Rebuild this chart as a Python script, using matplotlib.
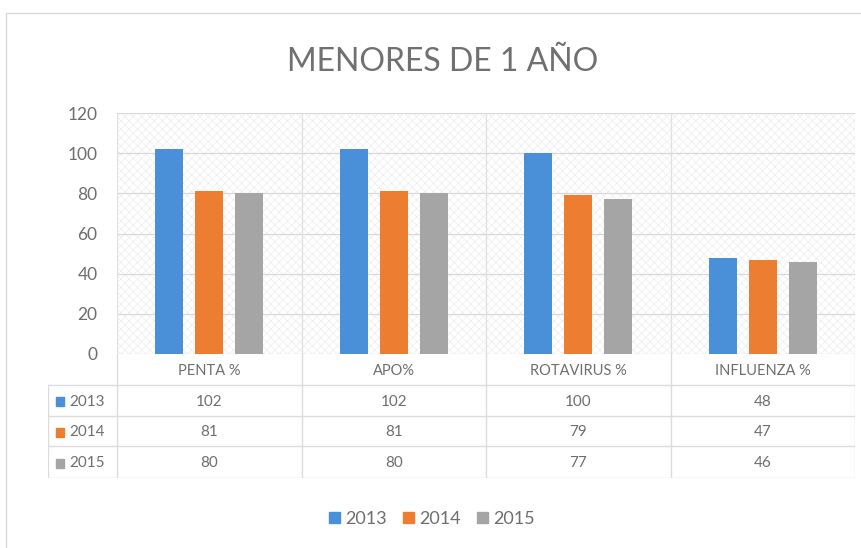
import matplotlib
matplotlib.use("Agg")
import matplotlib.pyplot as plt
from matplotlib.patches import Rectangle

title = "MENORES DE 1 AÑO"
categories = ["PENTA %", "APO%", "ROTAVIRUS %", "INFLUENZA %"]
series_names = ["2013", "2014", "2015"]
values_2013 = [102, 102, 100, 48]
values_2014 = [81, 81, 79, 47]
values_2015 = [80, 80, 77, 46]
yticks = [0, 20, 40, 60, 80, 100, 120]
colors = ["#4a90d9", "#ed7d31", "#a5a5a5"]

series = [values_2013, values_2014, values_2015]

W, H = 861, 548
fig = plt.figure(figsize=(W / 100, H / 100), dpi=100)
plt.rcParams['font.family'] = ['Lato', 'DejaVu Sans']
plt.rcParams['hatch.linewidth'] = 0.35
txt = "#6e6e6e"

def fx(px):
    return px / W

def fy(py):
    return 1 - py / H

# outer chart border
fig.add_artist(Rectangle((fx(6), fy(560)), fx(880) - fx(6), fy(13) - fy(560),
                         transform=fig.transFigure, fill=False, edgecolor="#d9d9d9", lw=1))

# main axes
x0, x1, ytop, ybot = 117, 855, 113, 354
ax = fig.add_axes([fx(x0), fy(ybot), fx(x1) - fx(x0), fy(ytop) - fy(ybot)])
ax.set_xlim(-0.5, len(categories) - 0.5)
ax.set_ylim(0, 120)
ax.add_patch(Rectangle((0, 0), 1, 1, transform=ax.transAxes, facecolor="#ffffff",
                       edgecolor="#e6e6e6", hatch="xxxx", lw=0, zorder=0))
for y in yticks:
    ax.axhline(y, color="#d9d9d9", lw=0.9, zorder=1)
for i in range(len(categories) + 1):
    ax.axvline(i - 0.5, color="#e0e0e0", lw=0.9, zorder=1)

bw = 0.15
offs = [-0.217, 0.0, 0.217]
for s, vals in enumerate(series):
    ax.bar([i + offs[s] for i in range(len(categories))], vals, width=bw,
           color=colors[s], zorder=3)

ax.set_yticks(yticks)
ax.set_yticklabels([str(t) for t in yticks], fontsize=12.5, color=txt)
ax.tick_params(axis='y', length=0, pad=14)
ax.set_xticks([])
for sp in ax.spines.values():
    sp.set_visible(False)

# data table
tx0 = 48
rows_y = [354, 385, 416, 446, 478]
line_c = "#dcdcdc"
ax_t = fig.add_axes([fx(tx0), fy(478), fx(x1) - fx(tx0), fy(354) - fy(478)])
ax_t.set_xlim(tx0, x1)
ax_t.set_ylim(478, 354)
ax_t.axis('off')
colw = (x1 - x0) / len(categories)
for y in rows_y[1:]:
    ax_t.plot([tx0, x1], [y, y], color=line_c, lw=1)
ax_t.plot([tx0, tx0], [rows_y[1], rows_y[-1]], color=line_c, lw=1)
for i in range(len(categories) + 1):
    xx = x0 + i * colw
    ax_t.plot([xx, xx], [354, 478], color=line_c, lw=1)
for i, c in enumerate(categories):
    ax_t.text(x0 + (i + 0.5) * colw, (rows_y[0] + rows_y[1]) / 2 + 1, c,
              ha='center', va='center', fontsize=10.5, color=txt)
for s, vals in enumerate(series):
    yc = (rows_y[s + 1] + rows_y[s + 2]) / 2 + 1
    ax_t.add_patch(Rectangle((56, yc - 4.5), 8, 9, color=colors[s]))
    ax_t.text(69, yc, series_names[s], ha='left', va='center', fontsize=11, color=txt)
    for i, v in enumerate(vals):
        ax_t.text(x0 + (i + 0.5) * colw, yc, str(v), ha='center', va='center',
                  fontsize=11, color=txt)

# title
fig.text(fx(443), fy(62), title, ha='center', va='center', fontsize=23, color="#707070")

# legend
handles = [Rectangle((0, 0), 1, 1, color=c) for c in colors]
fig.legend(handles, series_names, loc='center', bbox_to_anchor=(fx(432), fy(519)),
           ncol=3, frameon=False, fontsize=13, labelcolor=txt, handlelength=0.6,
           handleheight=0.6, handletextpad=0.3, columnspacing=0.9)

fig.savefig("out.png", dpi=100)
